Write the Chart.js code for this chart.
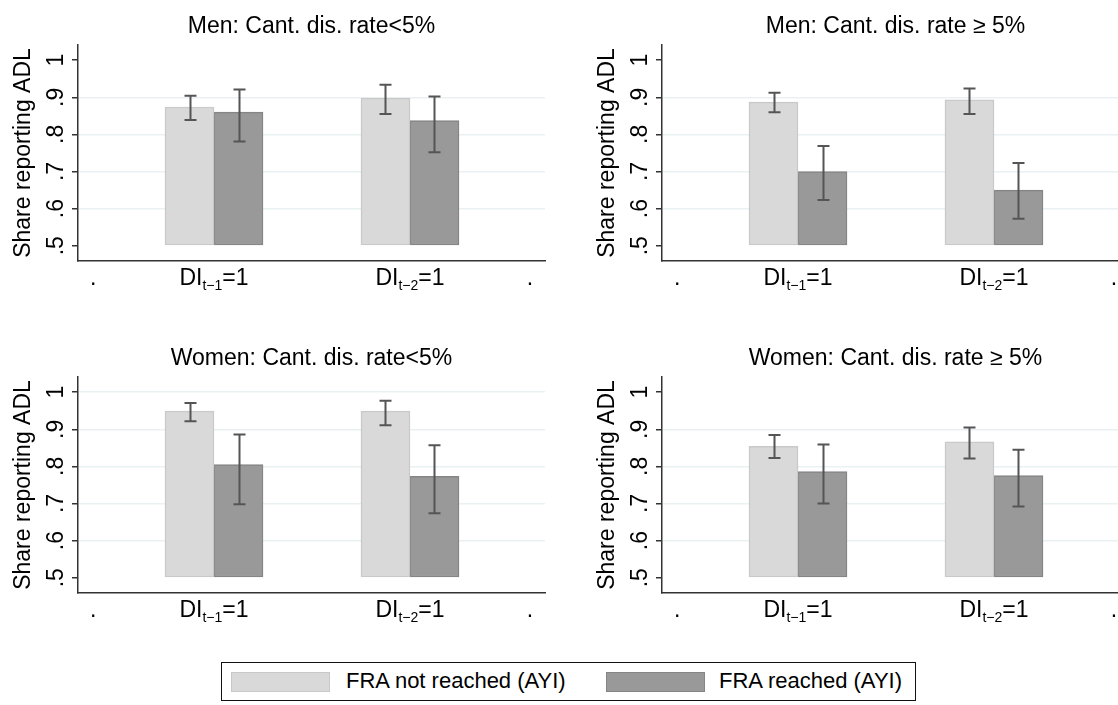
<!DOCTYPE html>
<html>
<head>
<meta charset="utf-8">
<script src="https://cdn.jsdelivr.net/npm/chart.js@4.4.1/dist/chart.umd.min.js"></script>
<style>
html,body{margin:0;padding:0;background:#fff;}
body{width:1118px;height:705px;overflow:hidden;position:relative;font-family:"Liberation Sans",Arial,sans-serif;}
.panel{position:absolute;width:560px;height:300px;}
#legend{position:absolute;left:221px;top:662px;width:695px;height:39px;border:1.5px solid #111;box-sizing:border-box;}
.sw{position:absolute;top:9px;width:99px;height:20px;box-sizing:border-box;}
.lt{position:absolute;top:0;line-height:36px;font-size:22px;color:#000;white-space:nowrap;}
</style>
</head>
<body>
<div class="panel" style="left:0;top:0"><canvas id="c0" width="560" height="300"></canvas></div>
<div class="panel" style="left:584px;top:0"><canvas id="c1" width="560" height="300"></canvas></div>
<div class="panel" style="left:0;top:332px"><canvas id="c2" width="560" height="300"></canvas></div>
<div class="panel" style="left:584px;top:332px"><canvas id="c3" width="560" height="300"></canvas></div>
<div id="legend"></div>
<script>
// ---------------- data ----------------
const panelTitles = ['Men: Cant. dis. rate<5%', 'Men: Cant. dis. rate \u2265 5%', 'Women: Cant. dis. rate<5%', 'Women: Cant. dis. rate \u2265 5%'];
const seriesNames = ['FRA not reached (AYI)', 'FRA reached (AYI)'];
const xTickLabels = ['.', 'DI_{t\u22121}=1', 'DI_{t\u22122}=1', '.'];
const yTickValues = [0.5, 0.6, 0.7, 0.8, 0.9, 1.0];
const yTickLabels = ['.5', '.6', '.7', '.8', '.9', '1'];
const yTitle = 'Share reporting ADL';
// per panel: [DI t-1, DI t-2]
const notReached     = [[0.874, 0.898], [0.887, 0.893], [0.949, 0.949], [0.854, 0.866]];
const notReachedLow  = [[0.839, 0.855], [0.860, 0.855], [0.922, 0.911], [0.823, 0.821]];
const notReachedHigh = [[0.904, 0.934], [0.912, 0.924], [0.971, 0.977], [0.885, 0.905]];
const reached        = [[0.860, 0.837], [0.700, 0.650], [0.805, 0.773], [0.786, 0.775]];
const reachedLow     = [[0.781, 0.752], [0.623, 0.573], [0.698, 0.674], [0.700, 0.692]];
const reachedHigh    = [[0.921, 0.902], [0.769, 0.723], [0.886, 0.857], [0.859, 0.845]];

// ---------------- styling / layout ----------------
const FONT = '"Liberation Sans", Arial, sans-serif';
const colors = {
  light: '#d9d9d9', lightBorder: '#c9c9c9',
  dark: '#999999', darkBorder: '#858585',
  grid: '#e9f1f3', axis: '#333333', err: '#555555'
};
const groupPositions = [1, 2];          // x positions of the two bar groups
const xTickPositions = [0.383, 1, 2, 2.612];
const gridAtTop = [false, false, true, false];

function splitSub(s) {
  const m = s.match(/^(.*)_\{(.*)\}(.*)$/);
  return m ? [m[1], m[2], m[3]] : [s, '', ''];
}

const decorPlugin = {
  id: 'decor',
  afterDatasetsDraw(chart) {
    const ctx = chart.ctx, y = chart.scales.y;
    ctx.save();
    ctx.strokeStyle = colors.err;
    ctx.lineWidth = 2;
    chart.data.datasets.forEach((ds, di) => {
      const meta = chart.getDatasetMeta(di);
      meta.data.forEach((bar, i) => {
        const lo = y.getPixelForValue(ds.errLow[i]);
        const hi = y.getPixelForValue(ds.errHigh[i]);
        const x = Math.round(bar.x) + 0.5;
        ctx.beginPath();
        ctx.moveTo(x, lo); ctx.lineTo(x, hi);
        ctx.moveTo(x - 6, lo); ctx.lineTo(x + 6, lo);
        ctx.moveTo(x - 6, hi); ctx.lineTo(x + 6, hi);
        ctx.stroke();
      });
    });
    ctx.restore();
  },
  afterDraw(chart, args, opts) {
    const ctx = chart.ctx, ca = chart.chartArea;
    const xs = chart.scales.x, ys = chart.scales.y;
    ctx.save();
    ctx.fillStyle = '#000';
    // title
    ctx.font = '23px ' + FONT;
    ctx.textAlign = 'center';
    ctx.textBaseline = 'alphabetic';
    ctx.fillText(opts.title, (ca.left + ca.right) / 2, 33);
    // y tick labels (rotated)
    ys.ticks.forEach((t, i) => {
      const py = ys.getPixelForTick(i);
      ctx.save();
      ctx.translate(ca.left - 15, py);
      ctx.rotate(-Math.PI / 2);
      ctx.textAlign = 'center';
      ctx.fillText(t.label, 0, 0);
      ctx.restore();
    });
    // y title
    ctx.save();
    ctx.translate(ca.left - 48, (ca.top + ca.bottom) / 2);
    ctx.rotate(-Math.PI / 2);
    ctx.textAlign = 'center';
    ctx.fillText(yTitle, 0, 0);
    ctx.restore();
    // x tick labels with subscripts
    xs.ticks.forEach((t, i) => {
      const px = xs.getPixelForTick(i);
      const [main, sub, tail] = splitSub(t.label);
      const fMain = '23px ' + FONT, fSub = '14px ' + FONT;
      ctx.font = fMain; const w1 = ctx.measureText(main).width, w3 = ctx.measureText(tail).width;
      ctx.font = fSub; const w2 = sub ? ctx.measureText(sub).width : 0;
      let x0 = px - (w1 + w2 + w3) / 2;
      const by = ca.bottom + 24;
      ctx.textAlign = 'left';
      ctx.font = fMain; ctx.fillText(main, x0, by); x0 += w1;
      if (sub) { ctx.font = fSub; ctx.fillText(sub, x0, by + 5); x0 += w2; }
      ctx.font = fMain; ctx.fillText(tail, x0, by);
    });
    ctx.restore();
  }
};

function makePanel(p) {
  const ctx = document.getElementById('c' + p);
  const mk = (vals) => groupPositions.map((x, i) => ({ x: x, y: vals[p][i] }));
  new Chart(ctx, {
    type: 'bar',
    data: {
      datasets: [
        { label: seriesNames[0], data: mk(notReached), errLow: notReachedLow[p], errHigh: notReachedHigh[p],
          backgroundColor: colors.light, borderColor: colors.lightBorder },
        { label: seriesNames[1], data: mk(reached), errLow: reachedLow[p], errHigh: reachedHigh[p],
          backgroundColor: colors.dark, borderColor: colors.darkBorder }
      ]
    },
    options: {
      responsive: false,
      animation: false,
      events: [],
      datasets: { bar: { base: 0.5, barThickness: 49, borderWidth: 1.5, borderSkipped: false, grouped: true } },
      layout: { padding: { top: 45, right: 15, bottom: 39, left: 0 } },
      plugins: { legend: { display: false }, tooltip: { enabled: false }, decor: { title: panelTitles[p] } },
      scales: {
        x: {
          type: 'linear', min: 0.306, max: 2.689, offset: false, bounds: 'data',
          afterBuildTicks: s => { s.ticks = xTickPositions.map(v => ({ value: v })); },
          ticks: { display: false, callback: (v, i) => xTickLabels[i] },
          grid: { display: false, offset: false },
          border: { display: true, color: colors.axis, width: 1.5 },
          afterFit: s => { s.height = 0; }
        },
        y: {
          type: 'linear', min: 0.4588, max: 1.041,
          afterBuildTicks: s => { s.ticks = yTickValues.map(v => ({ value: v })); },
          ticks: { display: false, callback: (v, i) => yTickLabels[i] },
          grid: {
            color: c => (c.tick && c.tick.value > 0.55 && (c.tick.value < 0.95 || gridAtTop[p])) ? colors.grid : 'rgba(0,0,0,0)',
            lineWidth: 1.5, drawTicks: true, tickLength: 6, tickColor: colors.axis, tickWidth: 1.5
          },
          border: { display: true, color: colors.axis, width: 1.5 },
          afterFit: s => { s.width = 78; }
        }
      }
    },
    plugins: [decorPlugin]
  });
}
[0, 1, 2, 3].forEach(makePanel);

// legend
const leg = document.getElementById('legend');
const swLeft = [9, 384], txtLeft = [124, 497];
const swFill = [[colors.light, colors.lightBorder], [colors.dark, colors.darkBorder]];
seriesNames.forEach((n, i) => {
  const sw = document.createElement('div');
  sw.className = 'sw';
  sw.style.left = swLeft[i] + 'px';
  sw.style.background = swFill[i][0];
  sw.style.border = '1.5px solid ' + swFill[i][1];
  leg.appendChild(sw);
  const t = document.createElement('div');
  t.className = 'lt';
  t.style.left = txtLeft[i] + 'px';
  t.textContent = n;
  leg.appendChild(t);
});
</script>
</body>
</html>
